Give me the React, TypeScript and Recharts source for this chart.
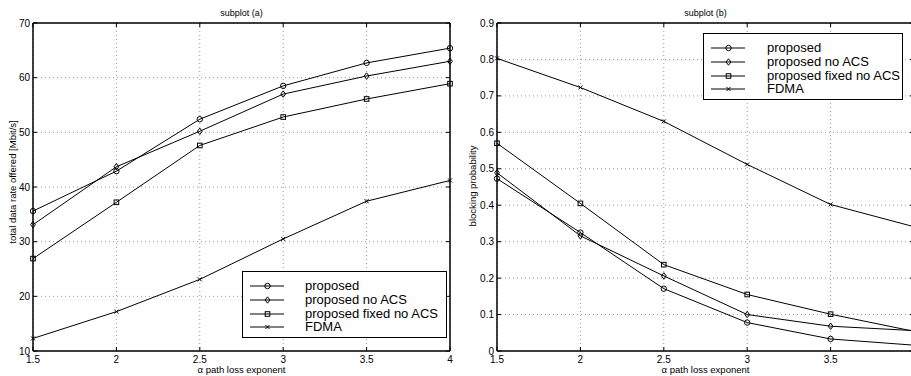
import React from 'react';
import { LineChart, Line, XAxis, YAxis, CartesianGrid, ReferenceLine, Legend } from 'recharts';

// ---------- data ----------
const alphaValues = [1.5, 2, 2.5, 3, 3.5, 4];
const xTicks = [1.5, 2, 2.5, 3, 3.5, 4];

// subplot (a): total data rate offered [Mbit/s]
const rateProposed = [35.6, 42.9, 52.4, 58.5, 62.7, 65.4];
const rateNoACS = [33.1, 43.7, 50.2, 57.0, 60.3, 63.0];
const rateFixedNoACS = [26.9, 37.2, 47.6, 52.8, 56.1, 58.9];
const rateFDMA = [12.3, 17.2, 23.1, 30.5, 37.4, 41.2];
const rateTicks = [10, 20, 30, 40, 50, 60, 70];

// subplot (b): blocking probability
const blockProposed = [0.473, 0.325, 0.171, 0.078, 0.033, 0.016];
const blockNoACS = [0.489, 0.316, 0.206, 0.1, 0.068, 0.056];
const blockFixedNoACS = [0.57, 0.405, 0.237, 0.155, 0.101, 0.054];
const blockFDMA = [0.803, 0.723, 0.63, 0.512, 0.402, 0.341];
const blockTicks = [0, 0.1, 0.2, 0.3, 0.4, 0.5, 0.6, 0.7, 0.8, 0.9];

const seriesNames = ['proposed', 'proposed no ACS', 'proposed fixed no ACS', 'FDMA'];
const seriesKeys = ['p', 'n', 'f', 'd'];
const seriesShapes = ['circle', 'diamond', 'square', 'cross'];

const rateData = alphaValues.map((a, i) => ({
  alpha: a,
  p: rateProposed[i],
  n: rateNoACS[i],
  f: rateFixedNoACS[i],
  d: rateFDMA[i],
}));
const blockData = alphaValues.map((a, i) => ({
  alpha: a,
  p: blockProposed[i],
  n: blockNoACS[i],
  f: blockFixedNoACS[i],
  d: blockFDMA[i],
}));

// ---------- style ----------
const FONT = '"Liberation Sans", Arial, Helvetica, sans-serif';
const INK = '#000';
const GRID = '#9a9a9a';

function Marker({ cx, cy, shape }: { cx: number; cy: number; shape: string }) {
  if (cx == null || cy == null) return null;
  const s = { stroke: INK, strokeWidth: 1, fill: 'none' } as const;
  if (shape === 'circle') return <circle cx={cx} cy={cy} r={2.7} {...s} />;
  if (shape === 'diamond')
    return <polygon points={`${cx},${cy - 3.2} ${cx + 2.4},${cy} ${cx},${cy + 3.2} ${cx - 2.4},${cy}`} {...s} />;
  if (shape === 'square') return <rect x={cx - 2.3} y={cy - 2.3} width={4.6} height={4.6} {...s} />;
  return (
    <g {...s}>
      <line x1={cx - 2} y1={cy - 2} x2={cx + 2} y2={cy + 2} />
      <line x1={cx - 2} y1={cy + 2} x2={cx + 2} y2={cy - 2} />
    </g>
  );
}

const dotFor = (shape: string) => (props: any) => (
  <Marker key={`${shape}-${props.index}`} cx={props.cx} cy={props.cy} shape={shape} />
);

type Plot = { left: number; right: number; top: number; bottom: number };

const makeYTick = (plot: Plot) => (props: any) => {
  const { x, y, payload } = props;
  return (
    <g>
      <line x1={plot.left} x2={plot.left + 4} y1={y} y2={y} stroke={INK} strokeWidth={1} />
      <line x1={plot.right - 4} x2={plot.right} y1={y} y2={y} stroke={INK} strokeWidth={1} />
      <text x={x} y={y} dy="0.35em" textAnchor="end" fontSize={10} fontFamily={FONT} fill={INK}>
        {String(payload.value)}
      </text>
    </g>
  );
};

const makeXTick = (plot: Plot) => (props: any) => {
  const { x, y, payload } = props;
  return (
    <g>
      <line x1={x} x2={x} y1={plot.bottom - 4} y2={plot.bottom} stroke={INK} strokeWidth={1} />
      <line x1={x} x2={x} y1={plot.top} y2={plot.top + 4} stroke={INK} strokeWidth={1} />
      <text x={x} y={y} dy="0.71em" textAnchor="middle" fontSize={10} fontFamily={FONT} fill={INK}>
        {String(payload.value)}
      </text>
    </g>
  );
};

function YLabelText({ lx, ly, labelText }: { lx: number; ly: number; labelText: string }) {
  return (
    <text
      x={lx}
      y={ly}
      transform={`rotate(-90 ${lx} ${ly})`}
      textAnchor="middle"
      fontSize={9.5}
      fontFamily={FONT}
      fill={INK}
    >
      {labelText}
    </text>
  );
}

function LegendBox({ width, height, textLeft }: { width: number; height: number; textLeft: number }) {
  const rowCenters = [14, 28, 41.5, 55];
  return (
    <div
      style={{
        position: 'relative',
        width,
        height,
        boxSizing: 'border-box',
        border: '1px solid #000',
        background: '#fff',
        fontFamily: FONT,
        fontSize: 13,
        color: INK,
      }}
    >
      {seriesNames.map((name, i) => (
        <div key={name} style={{ position: 'absolute', left: 0, top: rowCenters[i] - 8, height: 16, width: '100%' }}>
          <svg width={50} height={16} style={{ position: 'absolute', left: 0, top: 0, overflow: 'visible' }}>
            <line x1={7} x2={41} y1={8} y2={8} stroke={INK} strokeWidth={1} />
            <Marker cx={24.5} cy={8} shape={seriesShapes[i]} />
          </svg>
          <span style={{ position: 'absolute', left: textLeft, top: 0, lineHeight: '16px', whiteSpace: 'nowrap' }}>
            {name}
          </span>
        </div>
      ))}
    </div>
  );
}

type PanelProps = {
  data: any[];
  width: number;
  yWidth: number;
  rightMargin: number;
  yDomain: [number, number];
  yTicks: number[];
  yTop: number;
  title: string;
  yLabel: string;
  yLabelX: number;
  yLabelY: number;
  legendLeft: number;
  legendTop: number;
  legendWidth: number;
  legendTextLeft: number;
};

function Panel(p: PanelProps) {
  const height = 376;
  const top = 23;
  const xAxisHeight = 25;
  const plot: Plot = { left: p.yWidth, right: p.width - p.rightMargin, top, bottom: height - xAxisHeight };
  return (
    <LineChart
      width={p.width}
      height={height}
      data={p.data}
      margin={{ top, right: p.rightMargin, bottom: 0, left: 0 }}
      style={{ fontFamily: FONT }}
    >
      <CartesianGrid stroke={GRID} strokeDasharray="1 3" strokeWidth={1} />
      <XAxis
        dataKey="alpha"
        type="number"
        domain={[1.5, 4]}
        ticks={xTicks}
        interval={0}
        height={xAxisHeight}
        tickSize={0}
        tickMargin={5}
        tickLine={false}
        axisLine={{ stroke: INK, strokeWidth: 1.5 }}
        tick={makeXTick(plot)}
        label={{ value: 'α path loss exponent', position: 'insideBottom', offset: 3, fontSize: 9.5, fill: INK, fontFamily: FONT }}
      />
      <YAxis
        type="number"
        domain={p.yDomain}
        ticks={p.yTicks}
        interval={0}
        width={p.yWidth}
        tickSize={0}
        tickMargin={3}
        tickLine={false}
        axisLine={{ stroke: INK, strokeWidth: 1.5 }}
        tick={makeYTick(plot)}
        label={<YLabelText lx={p.yLabelX} ly={p.yLabelY} labelText={p.yLabel} />}
      />
      <ReferenceLine
        y={p.yTop}
        stroke={INK}
        strokeWidth={1.5}
        label={{ value: p.title, position: 'top', offset: 7, fontSize: 9, fill: INK, fontFamily: FONT }}
      />
      <ReferenceLine x={4} stroke={INK} strokeWidth={1.5} />
      {seriesKeys.map((k, i) => (
        <Line
          key={k}
          type="linear"
          dataKey={k}
          name={seriesNames[i]}
          stroke={INK}
          strokeWidth={1}
          dot={dotFor(seriesShapes[i])}
          activeDot={false}
          isAnimationActive={false}
        />
      ))}
      <Legend
        layout="vertical"
        align="center"
        verticalAlign="middle"
        wrapperStyle={{ left: p.legendLeft, top: p.legendTop, width: p.legendWidth, height: 67 }}
        content={() => <LegendBox width={p.legendWidth} height={67} textLeft={p.legendTextLeft} />}
      />
    </LineChart>
  );
}

export default function App() {
  return (
    <div
      style={{
        position: 'fixed',
        left: 0,
        top: 0,
        width: 911,
        height: 376,
        overflow: 'hidden',
        background: '#fff',
      }}
    >
      <div style={{ position: 'absolute', left: 0, top: 0 }}>
        <Panel
          data={rateData}
          width={460}
          yWidth={33}
          rightMargin={10}
          yDomain={[10, 70]}
          yTicks={rateTicks}
          yTop={70}
          title="subplot (a)"
          yLabel="total data rate offered [Mbit/s]"
          yLabelX={15.5}
          yLabelY={182}
          legendLeft={242}
          legendTop={271}
          legendWidth={205}
          legendTextLeft={62}
        />
      </div>
      <div style={{ position: 'absolute', left: 450, top: 0 }}>
        <Panel
          data={blockData}
          width={474}
          yWidth={47}
          rightMargin={10}
          yDomain={[0, 0.9]}
          yTicks={blockTicks}
          yTop={0.9}
          title="subplot (b)"
          yLabel="blocking probability"
          yLabelX={26}
          yLabelY={186}
          legendLeft={253}
          legendTop={33}
          legendWidth={200}
          legendTextLeft={63}
        />
      </div>
    </div>
  );
}
